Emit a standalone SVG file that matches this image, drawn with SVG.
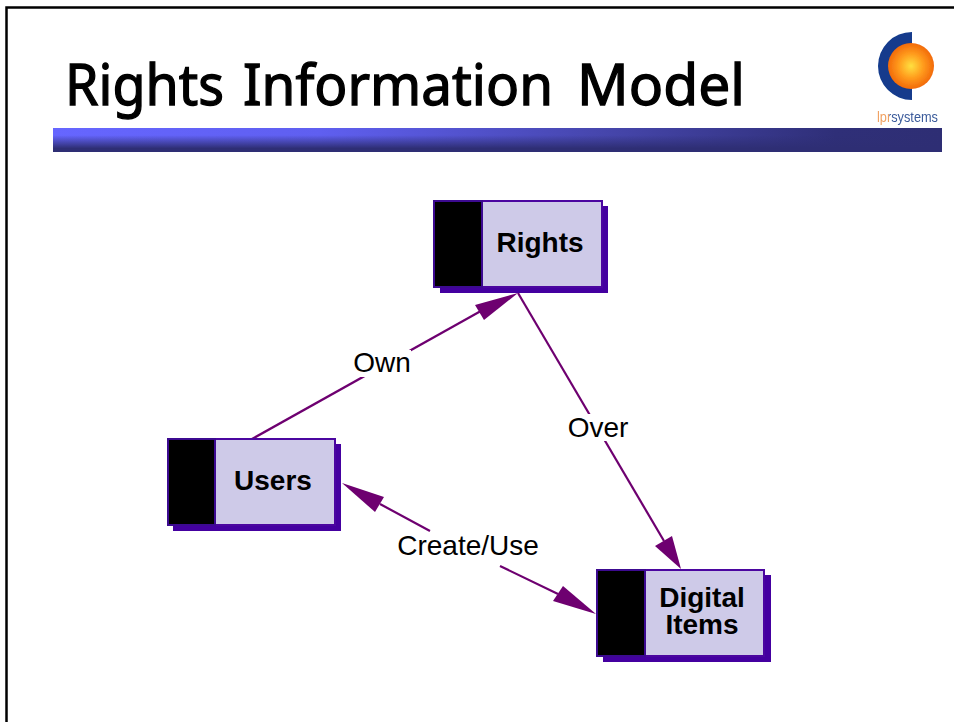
<svg xmlns="http://www.w3.org/2000/svg" width="954" height="722" viewBox="0 0 954 722">
<style>
.box{fill:#cecae8;stroke:#4b06a0;stroke-width:2}
.shadow{fill:#4400a0}
.tab{fill:#000;stroke:#3c0a90;stroke-width:2}
.lab{font:bold 28px "Liberation Sans",Arial,sans-serif;fill:#000;text-anchor:middle}
.cl{font:28px "Liberation Sans",Arial,sans-serif;fill:#000;text-anchor:middle}
.ln{stroke:#6e0070;stroke-width:2.2;fill:none}
.ah{fill:#6e0070}
.tt{font:57px "Noto Sans","Open Sans",sans-serif;fill:#000;stroke:#000;stroke-width:1.3}
.lg{font:14.5px "Liberation Sans",sans-serif}
</style>
<defs>
<linearGradient id="bh" x1="0" x2="1" y1="0" y2="0"><stop offset="0" stop-color="#6666ff"/><stop offset="0.3" stop-color="#5f5ff0"/><stop offset="0.62" stop-color="#4646ac"/><stop offset="0.88" stop-color="#2f2f78"/><stop offset="1" stop-color="#2e2e74"/></linearGradient>
<linearGradient id="bv" x1="0" x2="0" y1="0" y2="1"><stop offset="0" stop-color="#2e2e74" stop-opacity="0"/><stop offset="0.3" stop-color="#2e2e74" stop-opacity="0"/><stop offset="0.85" stop-color="#2e2e74" stop-opacity="1"/><stop offset="1" stop-color="#2e2e74" stop-opacity="1"/></linearGradient>
<radialGradient id="sun"><stop offset="0" stop-color="#ffe040"/><stop offset="0.55" stop-color="#ff9a1c"/><stop offset="1" stop-color="#f26a0a"/></radialGradient>
<linearGradient id="lgf" gradientUnits="userSpaceOnUse" x1="877" x2="938" y1="0" y2="0"><stop offset="0.19" stop-color="#f0a060"/><stop offset="0.2" stop-color="#3a5a9a"/></linearGradient>
<filter id="soft" x="-10%" y="-10%" width="120%" height="120%"><feGaussianBlur stdDeviation="0.7"/></filter>
</defs>
<rect width="954" height="722" fill="#fff"/>
<path id="frame" d="M6.500 722V7.500H954" fill="none" stroke="#000" stroke-width="2.500"/>
<g id="title">
<text class="tt" x="65" y="105" textLength="159" lengthAdjust="spacingAndGlyphs">Rights</text>
<text class="tt" x="243" y="105" textLength="310" lengthAdjust="spacingAndGlyphs">Information</text>
<text class="tt" x="577" y="105" textLength="168" lengthAdjust="spacingAndGlyphs">Model</text>
</g>
<g id="bar"><rect x="53" y="128" width="889" height="24" fill="url(#bh)"/><rect x="53" y="128" width="889" height="24" fill="url(#bv)"/></g>
<g id="logo" filter="url(#soft)">
<path d="M912 32A34 34 0 0 0 912 100Z" fill="#123a8c"/>
<circle cx="911" cy="66" r="23" fill="url(#sun)"/>
<text class="lg" x="877" y="122" textLength="61" lengthAdjust="spacingAndGlyphs" fill="url(#lgf)">lprsystems</text>
</g>
<g id="connectors">
<path class="ln" d="M252 439L488 307"/><path class="ah" d="M518 293L484 320 475 305Z"/>
<path class="ln" d="M518 293L664 541"/><path class="ah" d="M681 569L655 546 672 536Z"/>
<path class="ln" d="M380 504L430 531M500 566L558 594"/><path class="ah" d="M342 483L384 497 375 512Z"/><path class="ah" d="M596 614L553 601 563 586Z"/>
</g>
<rect x="353" y="350" width="58" height="27" fill="#fff"/>
<rect x="567" y="414" width="62" height="27" fill="#fff"/>
<rect x="396" y="532" width="144" height="27" fill="#fff"/>
<text class="cl" x="382" y="372">Own</text>
<text class="cl" x="598" y="437">Over</text>
<text class="cl" x="468" y="555">Create/Use</text>
<g id="rights"><rect class="shadow" x="440" y="206" width="168" height="87"/><rect class="box" x="434" y="201" width="168" height="86"/><rect class="tab" x="434" y="201" width="48" height="86"/><text class="lab" x="540" y="252">Rights</text></g>
<g id="users"><rect class="shadow" x="173" y="444" width="168" height="87"/><rect class="box" x="168" y="439" width="167" height="86"/><rect class="tab" x="168" y="439" width="47" height="86"/><text class="lab" x="273" y="490">Users</text></g>
<g id="digital"><rect class="shadow" x="603" y="575" width="168" height="87"/><rect class="box" x="597" y="570" width="167" height="86"/><rect class="tab" x="597" y="570" width="48" height="86"/><text class="lab" x="702" y="607">Digital<tspan x="702" dy="27">Items</tspan></text></g>
</svg>
